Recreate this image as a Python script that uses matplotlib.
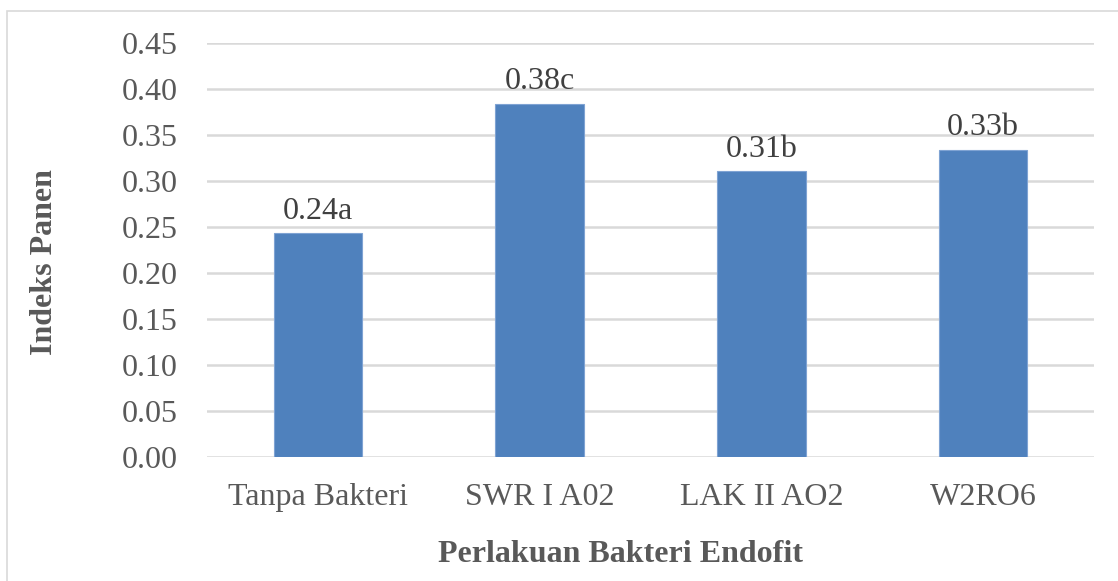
import matplotlib.pyplot as plt
import numpy as np
from matplotlib.patches import Rectangle

categories = ['Tanpa Bakteri', 'SWR I A02', 'LAK II AO2', 'W2RO6']
values = [0.243, 0.384, 0.311, 0.334]
bar_labels = ['0.24a', '0.38c', '0.31b', '0.33b']
yticks = [0.00, 0.05, 0.10, 0.15, 0.20, 0.25, 0.30, 0.35, 0.40, 0.45]

plt.rcParams['font.family'] = ['Liberation Serif', 'DejaVu Serif']
text_col = '#595959'
fs = 23

fig = plt.figure(figsize=(11.18, 5.81), dpi=100)
ax = fig.add_axes([207/1118, 1 - 457/581, 887/1118, 414/581])

x = np.arange(len(categories))
bars = ax.bar(x, values, width=0.4, color='#4F81BD', edgecolor='#7FA3D3', linewidth=0.8, zorder=3)

for b, lab in zip(bars, bar_labels):
    ax.text(b.get_x() + b.get_width()/2, b.get_height() + 0.008, lab,
            ha='center', va='bottom', fontsize=fs, color='#404040')

ax.set_xlim(-0.5, 3.5)
ax.set_ylim(0, 0.45)
ax.set_yticks(yticks)
ax.set_yticklabels(['%.2f' % t for t in yticks])
ax.set_xticks(x)
ax.set_xticklabels(categories)
ax.tick_params(axis='both', length=0, labelsize=fs, labelcolor=text_col)
ax.tick_params(axis='y', pad=21)
ax.tick_params(axis='x', pad=19)

ax.grid(axis='y', color='#D9D9D9', linewidth=1.8, zorder=0)
for s in ax.spines.values():
    s.set_visible(False)

fig.text(45/1118, 1 - 262/581, 'Indeks Panen', rotation=90, ha='center', va='center',
         fontsize=fs, fontweight='bold', color=text_col)
fig.text(620/1118, 1 - 555/581, 'Perlakuan Bakteri Endofit', ha='center', va='center',
         fontsize=fs, fontweight='bold', color=text_col)

fig.patches.append(Rectangle((7/1118, -0.1), 1.2, 1.1 - 11/581, transform=fig.transFigure,
                             fill=False, edgecolor='#D9D9D9', linewidth=1.2))

fig.savefig('out.png', dpi=100)
